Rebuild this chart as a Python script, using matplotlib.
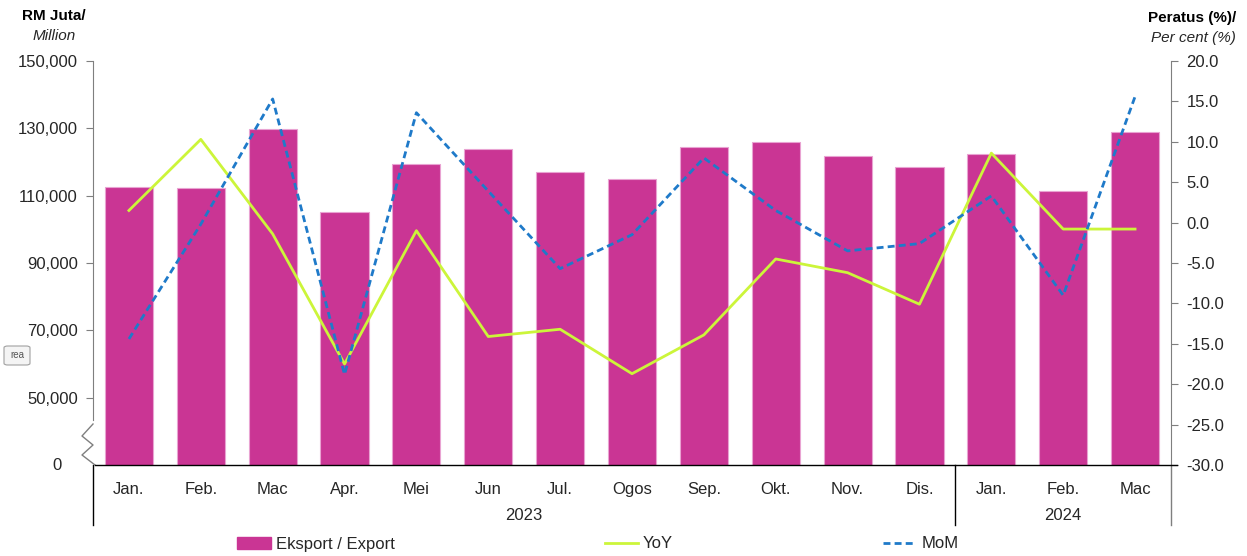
import matplotlib
matplotlib.use("Agg")
import matplotlib.pyplot as plt
from matplotlib.lines import Line2D
from matplotlib.patches import Patch, FancyBboxPatch
import matplotlib.transforms as mtrans

plt.rcParams['font.family'] = ['Liberation Sans', 'DejaVu Sans']

months = ["Jan.", "Feb.", "Mac", "Apr.", "Mei", "Jun", "Jul.", "Ogos", "Sep.",
          "Okt.", "Nov.", "Dis.", "Jan.", "Feb.", "Mac"]
years = ["2023", "2024"]
year_counts = [12, 3]
export = [112600, 112300, 129700, 105200, 119500, 123900, 116900, 115000,
          124500, 126000, 121700, 118500, 122400, 111400, 128800]
yoy = [1.5, 10.3, -1.4, -17.5, -1.0, -14.1, -13.2, -18.7, -13.9, -4.5,
       -6.2, -10.1, 8.6, -0.8, -0.8]
mom = [-14.4, -0.2, 15.3, -18.8, 13.6, 3.9, -5.7, -1.5, 8.0, 1.5,
       -3.5, -2.6, 3.3, -9.0, 15.6]
left_ticks = [50000, 70000, 90000, 110000, 130000, 150000]
right_ticks = [20.0, 15.0, 10.0, 5.0, 0.0, -5.0, -10.0, -15.0, -20.0, -25.0, -30.0]

BAR = '#CA3594'
YOY = '#CCF53A'
MOM = '#1F7AC9'
TXT = '#262626'
W, H = 1247, 556
FS = 12

fig = plt.figure(figsize=(W / 100, H / 100), dpi=100)
ax = fig.add_axes([93 / W, 1 - 465 / H, (1171 - 93) / W, (465 - 61) / H])
x = list(range(len(months)))
ax.bar(x, export, width=0.67, color=BAR, edgecolor='#E9A3D2', linewidth=0.8, zorder=2)
ax.set_xlim(-0.5, len(months) - 0.5)
ax.set_ylim(30000, 150000)
ax.set_yticks(left_ticks)
ax.set_yticklabels([f"{v:,}" for v in left_ticks], fontsize=FS, color=TXT)
ax.tick_params(axis='y', direction='out', length=5, color='#7f7f7f', pad=6)
ax.spines['left'].set_bounds(43500, 150000)
ax.spines['left'].set_color('#7f7f7f')
ax.spines['top'].set_visible(False)
ax.spines['right'].set_visible(False)
ax.spines['bottom'].set_visible(False)
ax.set_xticks(x)
ax.set_xticklabels(months, fontsize=FS, color=TXT)
ax.tick_params(axis='x', length=0, pad=12)

# "0" label and break zig-zag
ax.text(-0.5 - 31 / 71.9, 30000, "0", ha='right', va='center', fontsize=FS, color=TXT)
pix = fig.transFigure.inverted()
zz_px = [(93, 424), (82, 436), (93, 445), (82, 455), (95, 465)]
zz = [pix.transform((px, H - py)) for px, py in zz_px]
fig.add_artist(Line2D([p[0] for p in zz], [p[1] for p in zz], color='#7f7f7f', lw=1.0))

# bottom axis line
fig.add_artist(Line2D([95 / W, 1177 / W], [1 - 465 / H] * 2, color='black', lw=1.0))

# group separators and year labels
trans = mtrans.blended_transform_factory(ax.transData, ax.transAxes)
sep_len = (525 - 465) / (465 - 61)
start = -0.5
for yr, cnt in zip(years, year_counts):
    ax.plot([start, start], [0, -sep_len], transform=trans, color='black', lw=1.0, clip_on=False)
    ax.text(start + cnt / 2, -(515 - 465) / (465 - 61), yr, transform=trans,
            ha='center', va='center', fontsize=FS, color=TXT)
    start += cnt
ax.plot([start, start], [0, -sep_len], transform=trans, color='#7f7f7f', lw=1.0, clip_on=False)

ax2 = ax.twinx()
ax2.plot(x, yoy, color=YOY, lw=2.0, zorder=3)
ax2.plot(x, mom, color=MOM, lw=2.0, ls=(0, (2.5, 1.5)), zorder=4)
ax2.set_ylim(-30, 20)
ax2.set_yticks(right_ticks)
ax2.set_yticklabels([f"{v:.1f}" for v in right_ticks], fontsize=FS, color=TXT)
ax2.tick_params(axis='y', direction='out', length=5, color='#7f7f7f', pad=6)
for s in ['top', 'left', 'bottom']:
    ax2.spines[s].set_visible(False)
ax2.spines['right'].set_color('#7f7f7f')
ax2.spines['right'].set_bounds(-30, 20)

# axis titles
fig.text(54 / W, 1 - 16 / H, "RM Juta/", ha='center', va='center', fontsize=11,
         fontweight='bold', color='black')
fig.text(54 / W, 1 - 36 / H, "Million", ha='center', va='center', fontsize=11,
         fontstyle='italic', color=TXT)
fig.text(1236 / W, 1 - 18 / H, "Peratus (%)/", ha='right', va='center', fontsize=11,
         fontweight='bold', color='black')
fig.text(1236 / W, 1 - 38 / H, "Per cent (%)", ha='right', va='center', fontsize=11,
         fontstyle='italic', color=TXT)

# small UI artifact box
box = FancyBboxPatch((4 / W, 1 - 365 / H), 26 / W, 19 / H, boxstyle='round,pad=0,rounding_size=0.003',
                     transform=fig.transFigure, facecolor='#f4f4f4', edgecolor='#a0a0a0', lw=0.8)
fig.add_artist(box)
fig.text(10 / W, 1 - 355 / H, "rea", fontsize=7, color='#555555', va='center', ha='left')

handles = [Patch(facecolor=BAR, edgecolor=BAR),
           Line2D([], [], color=YOY, lw=2.0),
           Line2D([], [], color=MOM, lw=2.0, ls=(0, (2.5, 1.5)))]
labels = ["Eksport / Export", "YoY", "MoM"]
fig.legend(handles, labels, loc='center', bbox_to_anchor=(598 / W, 1 - 544 / H), ncol=3,
           frameon=False, fontsize=FS, handlelength=2.0, handleheight=0.75,
           handletextpad=0.3, columnspacing=12.6, labelcolor=TXT)

fig.savefig("out.png", dpi=100)
